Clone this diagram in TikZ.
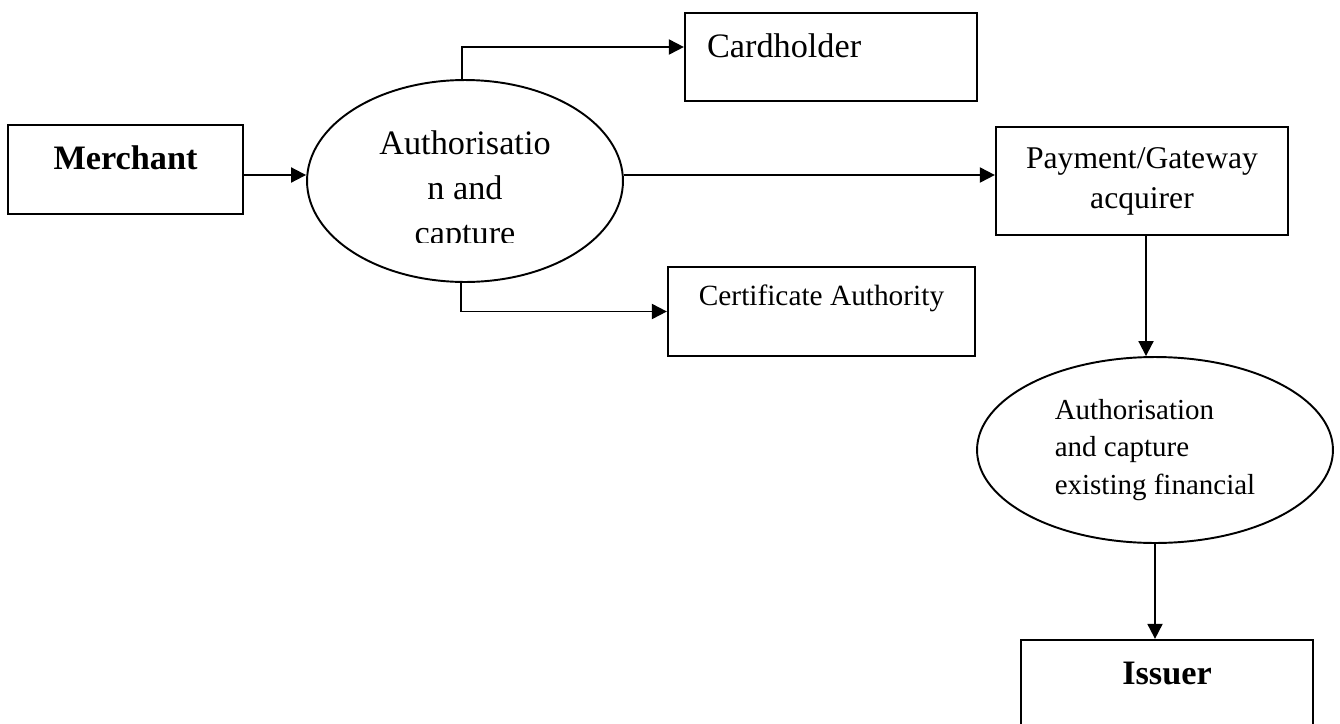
\documentclass[tikz,border=0pt]{standalone}
\usepackage{fontspec}
\setmainfont{Liberation Serif}
\usetikzlibrary{arrows.meta, shapes.geometric}

\begin{document}
\begin{tikzpicture}[x=0.02cm, y=-0.02cm, line width=1.1pt,
		box/.style = {draw, rectangle, line width=1.3pt, inner sep=0pt, minimum width=5.84cm, minimum height=1.78cm},
		onebox/.style = {box, text height=0.7em, text depth=0.7em},
		oval/.style = {draw, ellipse, inner sep=0pt},
		arr/.style = {-{Triangle[length=0.3cm, width=0.3cm]}}]

	\useasboundingbox (0,0) rectangle (1340,724);

	% boxes
	\node[onebox, minimum width=4.7cm, font=\fontsize{19.5}{24}\selectfont\bfseries] (merchant) at (125.5,169.5) {Merchant};
	\node[onebox, minimum height=1.76cm, text width=4.96cm, inner xsep=0.44cm, align=left, font=\fontsize{19.5}{24}\selectfont] (card) at (831,57) {Cardholder};
	\node[box, minimum height=2.16cm, align=center, font=\fontsize{18}{22.8}\selectfont] (pay) at (1142,181) {Payment/Gateway\\acquirer};
	\node[box, minimum width=6.14cm, text height=11pt, text depth=18.4pt, font=\fontsize{16.7}{20}\selectfont] (cert) at (821.5,311.5) {Certificate Authority};
	\node[onebox, font=\fontsize{19.5}{24}\selectfont\bfseries] (issuer) at (1167,684.5) {Issuer};

	% ellipses
	\node[oval, minimum width=6.32cm, minimum height=4.04cm] (auth) at (465,181) {};
	\begin{scope}
		\clip (300,100) rectangle (630,242);
		\node[align=center, inner sep=0pt, anchor=base, font=\fontsize{19.5}{25.6}\selectfont] (authtext) at (465,244) {Authorisatio\\n and\\capture};
	\end{scope}
	\node[oval, minimum width=7.12cm, minimum height=3.72cm, align=left, font=\fontsize{16.5}{21.3}\selectfont] (fin) at (1155,450) {Authorisation\\and capture\\existing financial};

	% arrows
	\draw[arr] ([yshift=-0.11cm]merchant.east) -- ([yshift=0.12cm]auth.west);
	\draw[arr] ([xshift=-0.06cm]auth.north) |- ([yshift=0.2cm]card.west);
	\draw[arr] ([yshift=0.12cm]auth.east) -- ([yshift=0.12cm]pay.west);
	\draw[arr] ([xshift=-0.08cm]auth.south) |- (cert.west);
	\draw[arr] ([xshift=0.08cm]pay.south) -- ([xshift=-0.18cm]fin.north);
	\draw[arr] (fin.south) -- ([xshift=-0.24cm]issuer.north);

\end{tikzpicture}
\end{document}
